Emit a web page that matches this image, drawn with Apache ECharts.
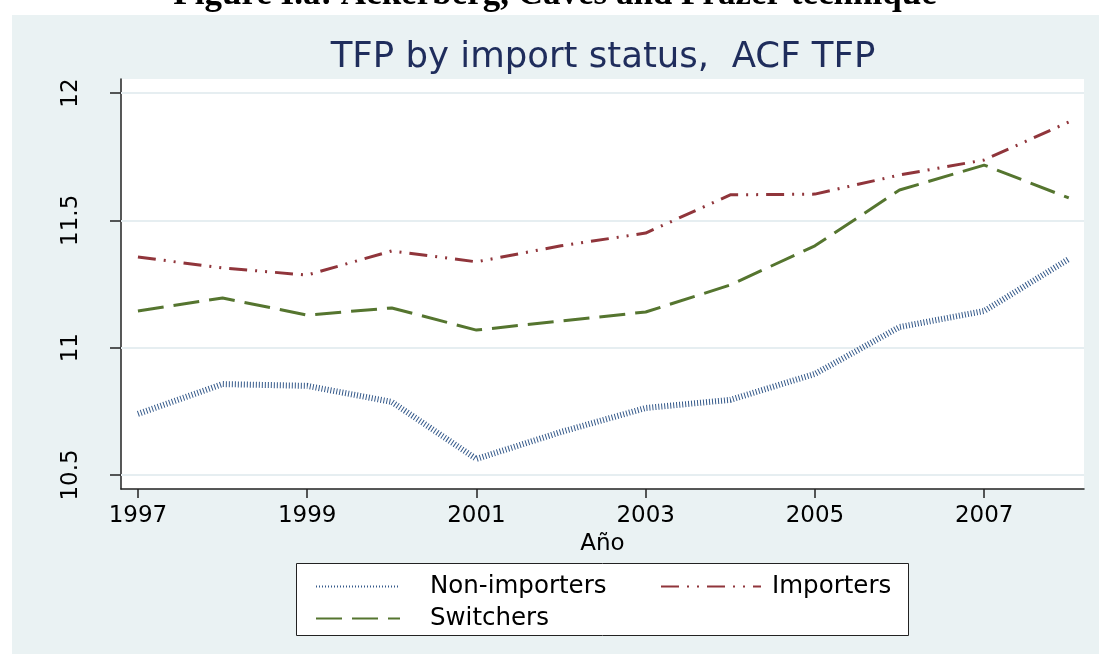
<!DOCTYPE html>
<html>
<head>
<meta charset="utf-8">
<script src="https://cdn.jsdelivr.net/npm/echarts@6/dist/echarts.min.js"></script>
<style>
  html, body { margin: 0; padding: 0; background: #fff; }
  #chart { width: 1099px; height: 654px; }
</style>
</head>
<body>
<div id="chart"></div>
<script>
// years on the x axis
var years = [1997, 1998, 1999, 2000, 2001, 2002, 2003, 2004, 2005, 2006, 2007, 2008]
var xTicks = [1997, 1999, 2001, 2003, 2005, 2007]
var yTicks = [10.5, 11, 11.5, 12]

// ACF TFP by import status
var nonImporters = [10.74, 10.857, 10.85, 10.787, 10.563, 10.669, 10.763, 10.795, 10.897, 11.081, 11.144, 11.348]
var importers = [11.356, 11.313, 11.285, 11.38, 11.337, 11.40, 11.45, 11.60, 11.603, 11.678, 11.737, 11.886]
var switchers = [11.144, 11.195, 11.128, 11.156, 11.069, 11.105, 11.14, 11.246, 11.40, 11.619, 11.717, 11.588]

function pairs(vals) {
  return years.map(function(y, i) { return [y, vals[i]] })
}

var font = '"DejaVu Sans", Verdana, sans-serif'
var chart = echarts.init(document.getElementById('chart'))

chart.setOption({
  animation: false,
  backgroundColor: '#ffffff',
  textStyle: { fontFamily: font },
  graphic: [
    { // light blue-gray panel behind the graph
      type: 'rect', z: -10, silent: true,
      shape: { x: 12, y: 15, width: 1087, height: 639 },
      style: { fill: '#eaf2f3' }
    },
    { // figure caption, cut off at the top
      type: 'text', z: 10, silent: true,
      x: 555, y: 12,
      style: {
        text: 'Figure I.a: Ackerberg, Caves and Frazer technique',
        font: 'bold 35px "Liberation Serif", "Times New Roman", serif',
        fill: '#000', align: 'center', verticalAlign: 'bottom'
      }
    },
    { // chart title, centred over the plot area
      type: 'text', z: 10, silent: true,
      x: 603, y: 58,
      style: {
        text: 'TFP by import status,  ACF TFP',
        font: '35.5px ' + font,
        fill: '#1f2d5c', align: 'center', verticalAlign: 'middle'
      }
    },
    { // legend box
      type: 'rect', z: 1, silent: true,
      shape: { x: 296.5, y: 563.5, width: 612, height: 72 },
      style: { fill: '#ffffff', stroke: '#222', lineWidth: 1 }
    }
  ],
  legend: [
    {
      data: ['Non-importers', 'Switchers'],
      orient: 'vertical',
      left: 310, top: 569,
      itemWidth: 84, itemHeight: 10, itemGap: 7,
      itemStyle: { opacity: 0 },
      textStyle: { fontFamily: font, fontSize: 24.5, color: '#000', padding: [0, 0, 0, 25] },
      z: 5
    },
    {
      data: ['Importers'],
      orient: 'vertical',
      left: 655, top: 569,
      itemWidth: 100, itemHeight: 10,
      itemStyle: { opacity: 0 },
      textStyle: { fontFamily: font, fontSize: 24.5, color: '#000', padding: [0, 0, 0, 6] },
      z: 5
    }
  ],
  grid: {
    left: 121, top: 79, right: 15, bottom: 165,
    show: true, backgroundColor: '#ffffff', borderWidth: 0
  },
  xAxis: {
    type: 'value',
    min: 1996.8, max: 2008.18,
    name: 'Año',
    nameLocation: 'middle',
    nameGap: 40,
    nameTextStyle: { fontFamily: font, fontSize: 23, color: '#000' },
    axisLine: { show: true, onZero: false, lineStyle: { color: '#222', width: 1.5 } },
    axisTick: { show: true, length: 9, customValues: xTicks, lineStyle: { color: '#222', width: 1.5 } },
    axisLabel: {
      customValues: xTicks, fontSize: 23, color: '#000', margin: 16,
      formatter: function(v) { return String(v) }
    },
    splitLine: { show: false }
  },
  yAxis: {
    type: 'value',
    min: 10.445, max: 12.055,
    axisLine: { show: true, onZero: false, lineStyle: { color: '#222', width: 1.5 } },
    axisTick: { show: true, length: 11, customValues: yTicks, lineStyle: { color: '#222', width: 1.5 } },
    axisLabel: { customValues: yTicks, fontSize: 23, color: '#000', rotate: 90, margin: 38 },
    splitLine: { show: false }
  },
  series: [
    {
      name: 'Non-importers',
      type: 'line',
      data: pairs(nonImporters),
      showSymbol: false,
      symbol: 'none',
      z: 3,
      lineStyle: { color: '#34598a', width: 6, type: [1, 2], cap: 'butt' },
      itemStyle: { color: '#34598a' },
      markLine: { // light horizontal grid lines at the y ticks
        silent: true, symbol: 'none', z: 1,
        label: { show: false },
        lineStyle: { color: '#e6eef1', width: 2, type: 'solid' },
        data: yTicks.map(function(v) { return { yAxis: v } })
      }
    },
    {
      name: 'Importers',
      type: 'line',
      data: pairs(importers),
      showSymbol: false,
      symbol: 'none',
      z: 3,
      lineStyle: { color: '#90353b', width: 3, type: [18, 8, 2, 8, 2, 8] },
      itemStyle: { color: '#90353b' }
    },
    {
      name: 'Switchers',
      type: 'line',
      data: pairs(switchers),
      showSymbol: false,
      symbol: 'none',
      z: 3,
      lineStyle: { color: '#55752f', width: 3, type: [26, 10] },
      itemStyle: { color: '#55752f' }
    }
  ]
})
</script>
</body>
</html>
